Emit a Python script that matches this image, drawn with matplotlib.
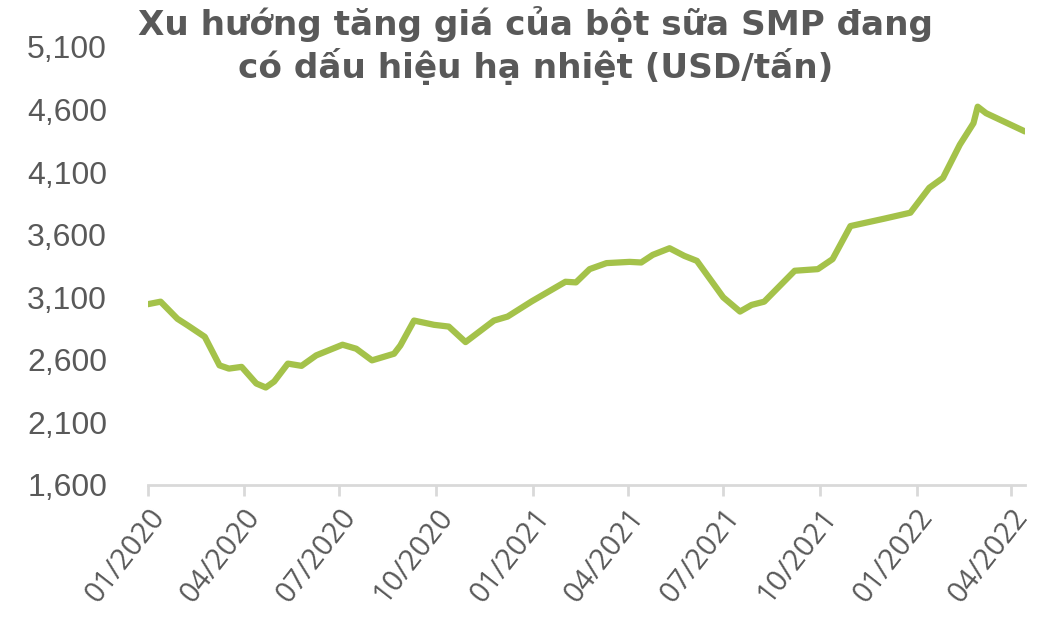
import pandas as pd
import matplotlib
matplotlib.use("Agg")
import matplotlib.pyplot as plt
import matplotlib.dates as mdates
from matplotlib.ticker import FuncFormatter

# SMP price, USD/ton
dates = [
    "2020-01-01", "2020-01-13", "2020-01-29", "2020-02-08", "2020-02-24",
    "2020-03-09", "2020-03-18", "2020-03-30", "2020-04-13", "2020-04-22",
    "2020-04-30", "2020-05-13", "2020-05-26", "2020-06-09", "2020-07-04",
    "2020-07-17", "2020-08-01", "2020-08-22", "2020-08-28", "2020-09-10",
    "2020-09-29", "2020-10-13", "2020-10-29", "2020-11-25", "2020-12-08",
    "2020-12-31", "2021-02-01", "2021-02-11", "2021-02-24", "2021-03-12",
    "2021-04-03", "2021-04-14", "2021-04-25", "2021-05-11", "2021-05-25",
    "2021-06-06", "2021-07-01", "2021-07-17", "2021-07-28", "2021-08-09",
    "2021-09-07", "2021-09-29", "2021-10-13", "2021-10-30", "2021-12-01",
    "2021-12-26", "2022-01-13", "2022-01-26", "2022-02-11", "2022-02-24",
    "2022-02-28", "2022-03-08", "2022-04-14",
]
prices = [
    3045, 3065, 2928, 2874, 2784,
    2556, 2530, 2544, 2411, 2379,
    2427, 2570, 2552, 2636, 2721,
    2689, 2596, 2649, 2715, 2914,
    2880, 2866, 2742, 2914, 2946,
    3068, 3224, 3219, 3325, 3373,
    3383, 3378, 3439, 3492, 3431,
    3391, 3100, 2986, 3039, 3065,
    3312, 3325, 3405, 3669, 3728,
    3776, 3975, 4054, 4319, 4491,
    4623, 4571, 4425,
]
tick_dates = ["2020-01-01", "2020-04-01", "2020-07-01", "2020-10-01",
              "2021-01-01", "2021-04-01", "2021-07-01", "2021-10-01",
              "2022-01-01", "2022-04-01"]
title_lines = ["Xu hướng tăng giá của bột sữa SMP đang",
               "có dấu hiệu hạ nhiệt (USD/tấn)"]

x = pd.to_datetime(dates)
ticks = pd.to_datetime(tick_dates)

grey = "#595959"
axis_grey = "#D9D9D9"

fig = plt.figure(figsize=(10.38, 6.2), dpi=100)
ax = fig.add_axes([148 / 1038, 1 - 485 / 620, (1025 - 148) / 1038, (485 - 47) / 620])

ax.plot(x, prices, color="#A4C24A", lw=4.5, solid_capstyle="round", solid_joinstyle="round")

ax.set_ylim(1600, 5100)
ax.set_yticks(range(1600, 5101, 500))
ax.yaxis.set_major_formatter(FuncFormatter(lambda v, p: f"{int(v):,}"))
ax.set_xlim(pd.Timestamp("2020-01-01"), pd.Timestamp("2022-04-14"))
ax.set_xticks(ticks)
ax.xaxis.set_major_formatter(mdates.DateFormatter("%m/%Y"))

for s in ["top", "right", "left"]:
    ax.spines[s].set_visible(False)
ax.spines["bottom"].set_color(axis_grey)
ax.spines["bottom"].set_linewidth(2)

ax.tick_params(axis="y", length=0, pad=29.5, labelsize=23, labelcolor=grey)
ax.tick_params(axis="x", length=8, width=2, color=axis_grey, pad=5,
               labelsize=21, labelcolor=grey)
for lab in ax.get_xticklabels():
    lab.set_rotation(52)
    lab.set_ha("right")
    lab.set_va("top")
    lab.set_rotation_mode("anchor")
    lab.set_family("Open Sans")
for lab in ax.get_yticklabels():
    lab.set_family("Liberation Sans")

fig.text(536 / 1038, 1 - 35 / 620, title_lines[0], ha="center", va="baseline",
         fontsize=24.7, fontweight="bold", color=grey, family="DejaVu Sans")
fig.text(536 / 1038, 1 - 78 / 620, title_lines[1], ha="center", va="baseline",
         fontsize=24.7, fontweight="bold", color=grey, family="DejaVu Sans")

fig.savefig("out.png", dpi=100, facecolor="white")
